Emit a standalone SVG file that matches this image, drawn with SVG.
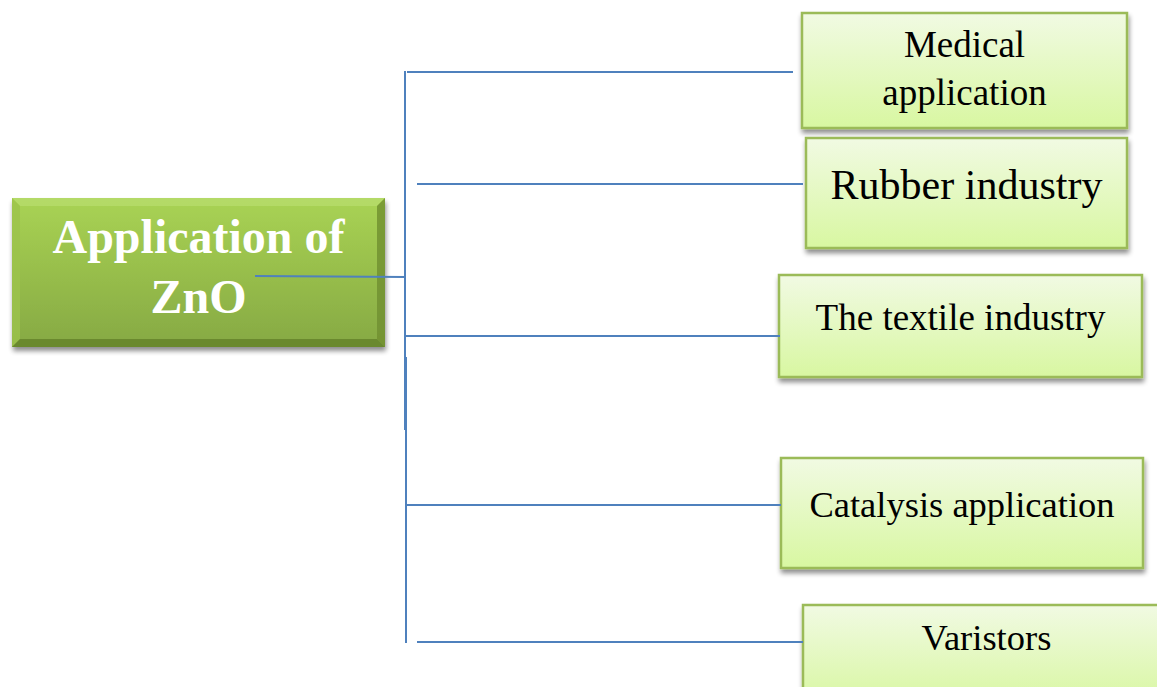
<svg xmlns="http://www.w3.org/2000/svg" width="1157" height="687" viewBox="0 0 1157 687">
<defs>
<linearGradient id="gMain" x1="0" y1="0" x2="0" y2="1">
<stop offset="0" stop-color="#a9d354"/>
<stop offset="1" stop-color="#86a943"/>
</linearGradient>
<linearGradient id="gLeaf" x1="0" y1="0" x2="0" y2="1">
<stop offset="0" stop-color="#f1fae3"/>
<stop offset="1" stop-color="#d8f7a1"/>
</linearGradient>
<filter id="sh" x="-10%" y="-10%" width="130%" height="140%">
<feGaussianBlur in="SourceAlpha" stdDeviation="2.5"/>
<feOffset dx="1" dy="4" result="b"/>
<feComponentTransfer><feFuncA type="linear" slope="0.45"/></feComponentTransfer>
<feMerge><feMergeNode/><feMergeNode in="SourceGraphic"/></feMerge>
</filter>
</defs>
<style>
.leaf{fill:url(#gLeaf);stroke:#9bbb59;stroke-width:2.5;filter:url(#sh)}
.lt{font-family:"Liberation Serif","Times New Roman",serif;fill:#000;text-anchor:middle}
.mt{font-family:"Liberation Serif","Times New Roman",serif;font-weight:bold;fill:#fff;text-anchor:middle;font-size:48px}
.con line{stroke:#4f81bd;stroke-width:2;fill:none}
</style>
<rect width="1157" height="687" fill="#fff"/>
<g id="main">
<g filter="url(#sh)">
<rect x="12" y="198" width="373" height="149" fill="url(#gMain)"/>
<polygon points="12,198 385,198 377,206 20,206" fill="#b7dc6c" opacity="0.8"/>
<polygon points="12,198 20,206 20,339 12,347" fill="#9cc34c" opacity="0.8"/>
<polygon points="385,198 385,347 377,339 377,206" fill="#6f8f30" opacity="0.8"/>
<polygon points="12,347 385,347 377,339 20,339" fill="#64812a" opacity="0.8"/>
</g>
<text class="mt" x="198.5" y="253">Application of</text>
<text class="mt" x="198.5" y="313">ZnO</text>
</g>
<g id="medical">
<rect class="leaf" x="802" y="13" width="325" height="115"/>
<text class="lt" x="964.5" y="57" font-size="37">Medical</text>
<text class="lt" x="964.5" y="105" font-size="37">application</text>
</g>
<g id="rubber">
<rect class="leaf" x="806" y="138" width="321" height="110"/>
<text class="lt" x="966.5" y="199" font-size="42">Rubber industry</text>
</g>
<g id="textile">
<rect class="leaf" x="779" y="275" width="363" height="102"/>
<text class="lt" x="960.5" y="330" font-size="37">The textile industry</text>
</g>
<g id="catalysis">
<rect class="leaf" x="781" y="458" width="362" height="110"/>
<text class="lt" x="962" y="517" font-size="36.5">Catalysis application</text>
</g>
<g id="varistors">
<rect class="leaf" x="803" y="605" width="370" height="100"/>
<text class="lt" x="986.5" y="650" font-size="36.5">Varistors</text>
</g>
<g id="connectors" class="con">
<line x1="255" y1="276" x2="406" y2="277"/>
<line x1="405" y1="71" x2="405" y2="430"/>
<line x1="406" y1="357" x2="406" y2="643"/>
<line x1="407" y1="72" x2="793" y2="72"/>
<line x1="417" y1="184" x2="803" y2="184"/>
<line x1="406" y1="336" x2="780" y2="336"/>
<line x1="406" y1="505" x2="781" y2="505"/>
<line x1="417" y1="642" x2="803" y2="642"/>
</g>
</svg>
